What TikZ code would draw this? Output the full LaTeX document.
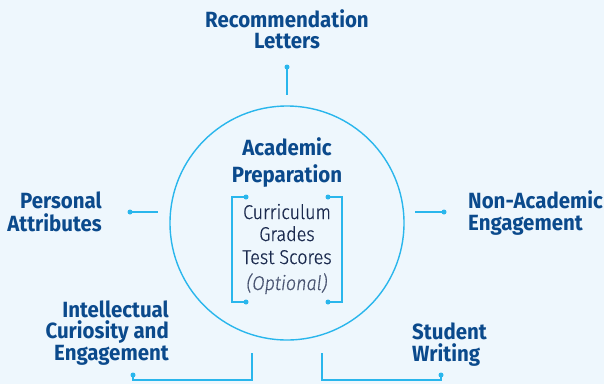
\documentclass[tikz,border=0pt]{standalone}
\usepackage{fontspec}
\newfontfamily\headfont{Fira Sans Bold}[FakeStretch=0.93]
\newfontfamily\bodyfont{Fira Sans Light}[FakeStretch=0.9, ItalicFont={Fira Sans Light Italic}, FakeBold=0.6]
\definecolor{bg}{HTML}{EEF7FD}
\definecolor{cyanline}{HTML}{29B6EC}
\definecolor{navy}{HTML}{0B4A8C}
\definecolor{ink}{HTML}{1B2A4E}
\definecolor{optgray}{HTML}{4A5572}
\tikzset{
  head/.style={font=\headfont\fontsize{22}{22}\selectfont, text=navy, inner sep=0pt},
  body/.style={font=\bodyfont\fontsize{20}{20}\selectfont, text=ink, inner sep=0pt},
  conn/.style={draw=cyanline, line width=1.4pt},
  dotc/.style={circle, fill=cyanline, inner sep=0pt, minimum size=5pt},
}
\begin{document}
\begin{tikzpicture}[x=1pt,y=-1pt]
\fill[bg] (0,0) rectangle (604,384);
\useasboundingbox (0,0) rectangle (604,384);
% central circle
\node[circle, draw=cyanline, line width=1.4pt, minimum size=234pt, inner sep=0pt] (circ) at (287,223) {};
% headings
\node[head, anchor=base] (rec1) at (287,27) {Recommendation};
\node[head, anchor=base] (rec2) at (287,48) {Letters};
\node[head, anchor=base] (aca1) at (287,155) {Academic};
\node[head, anchor=base] (aca2) at (287,182) {Preparation};
\node[head, anchor=base east] (per1) at (102,208) {Personal};
\node[head, anchor=base east] (per2) at (102,231) {Attributes};
\node[head, anchor=base west] (non1) at (468,208) {Non-Academic};
\node[head, anchor=base west] (non2) at (468,230) {Engagement};
\node[head, anchor=base east] (int1) at (169,317) {Intellectual};
\node[head, anchor=base east] (int2) at (169,338) {Curiosity and};
\node[head, anchor=base east] (int3) at (169,360) {Engagement};
\node[head, anchor=base west] (stu1) at (412,339) {Student};
\node[head, anchor=base west] (stu2) at (412,361) {Writing};
% body
\node[body, anchor=base] (cur) at (287,219) {Curriculum};
\node[body, anchor=base] (gra) at (287,241) {Grades};
\node[body, anchor=base] (tes) at (287,264) {Test Scores};
\node[body, anchor=base, text=optgray] (opt) at (287,290) {\itshape (Optional)};
% bracket
\coordinate (bl1) at (246,197); \coordinate (bl2) at (246,302);
\coordinate (br1) at (328,197); \coordinate (br2) at (328,302);
\draw[conn] (bl1) -- (232,197) -- (232,302) -- (bl2);
\draw[conn] (br1) -- (342,197) -- (342,302) -- (br2);
\foreach \p in {bl1,bl2,br1,br2} \node[dotc] at (\p) {};
% top connector
\node[dotc] (dtop) at (287,67) {};
\draw[conn] (dtop.center) -- (287,95);
% left connector
\node[dotc] (dleft) at (130,212) {};
\draw[conn] (dleft.center) -- (158,212);
% right connector
\node[dotc] (dright) at (444,212) {};
\draw[conn] (415,212) -- (dright.center);
% bottom-left connector
\node[dotc] (dbl) at (133,375) {};
\draw[conn] (dbl.center) -- (133,380) -- (252,380) -- (252,353);
% bottom-right connector
\node[dotc] (dbr) at (441,375) {};
\draw[conn] (322,353) -- (322,380) -- (441,380) -- (dbr.center);
\end{tikzpicture}
\end{document}
